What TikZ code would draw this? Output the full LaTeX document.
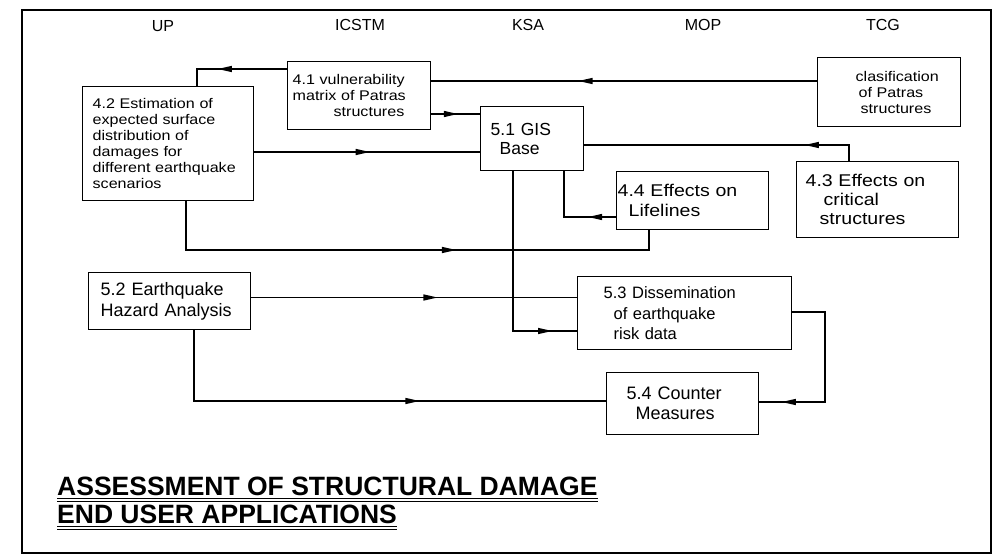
\documentclass[tikz,border=0pt]{standalone}
\usepackage{fontspec}
\setmainfont{Liberation Sans}
\newfontfamily\wfont{Liberation Sans}[FakeStretch=1.15]
\usetikzlibrary{calc}
\newcommand\ind[1]{\hspace*{#1pt}}
\tikzset{
  box/.style={draw, line width=1.3pt, rectangle, anchor=north west,
    inner xsep=0pt, inner ysep=0pt, align=left},
  conn/.style={line width=1.2pt},
  tipL/.pic={\fill (-7pt,0pt) -- (7pt,3.2pt) -- (7pt,-3.2pt) -- cycle;},
  tipR/.pic={\fill (7pt,0pt) -- (-7pt,3.2pt) -- (-7pt,-3.2pt) -- cycle;},
  hdr/.style={anchor=base, inner sep=0pt, font=\fontsize{16}{18}\selectfont},
  ttl/.style={anchor=base west, inner sep=0pt, font=\bfseries\fontsize{26.5}{30}\selectfont},
  small/.style={font=\wfont\fontsize{14}{16}\selectfont},
}
\begin{document}
\begin{tikzpicture}[x=1pt,y=-1pt]
\useasboundingbox (0,0) rectangle (995,556);
% frame
\draw[line width=1.3pt] (22,10) rectangle (991,553);
% headers
\node[hdr] (hUP) at (163,32) {UP};
\node[hdr] (hICSTM) at (360,31) {ICSTM};
\node[hdr] (hKSA) at (528,31) {KSA};
\node[hdr] (hMOP) at (703,31) {MOP};
\node[hdr] (hTCG) at (883,31) {TCG};
% boxes
\node[box, small, minimum width=171pt, minimum height=114pt, text width=171pt] (n42) at (82,86)
  {\ind{10}4.2 Estimation of\\ \ind{10}expected surface\\ \ind{10}distribution of\\ \ind{10}damages for\\ \ind{10}different earthquake\\ \ind{10}scenarios};
\node[box, small, minimum width=143pt, minimum height=68pt, text width=143pt] (n41) at (287,61)
  {\ind{5}4.1 vulnerability\\ \ind{5}matrix of Patras\\ \ind{46}structures};
\node[box, font=\fontsize{17.5}{19}\selectfont, minimum width=103pt, minimum height=64pt, text width=103pt] (n51) at (480,106)
  {\ind{10}5.1 GIS\\ \ind{19}Base};
\node[box, small, minimum width=143pt, minimum height=69pt, text width=143pt] (ncl) at (817,57)
  {\ind{38}clasification\\ \ind{41}of Patras\\ \ind{43}structures};
\node[box, font=\wfont\fontsize{17}{20}\selectfont, minimum width=152pt, minimum height=58pt, text width=152pt] (n44) at (616,171)
  {\ind{1}4.4 Effects on\\ \ind{12}Lifelines};
\node[box, font=\wfont\fontsize{17}{19}\selectfont, minimum width=162pt, minimum height=76pt, text width=162pt] (n43) at (796,161)
  {\ind{9}4.3 Effects on\\ \ind{27}critical\\ \ind{23}structures};
\node[box, font=\fontsize{18}{21}\selectfont, minimum width=162pt, minimum height=57pt, text width=162pt] (n52) at (88,272)
  {\ind{12}5.2 Earthquake\\ \ind{12}Hazard Analysis};
\node[box, font=\fontsize{16.5}{20.5}\selectfont, minimum width=214pt, minimum height=73pt, text width=214pt] (n53) at (577,276)
  {\ind{26}5.3 Dissemination\\ \ind{36}of earthquake\\ \ind{36}risk data};
\node[box, font=\fontsize{18}{20}\selectfont, minimum width=152pt, minimum height=62pt, text width=152pt] (n54) at (606,372)
  {\ind{20}5.4 Counter\\ \ind{29}Measures};
% helper coordinates
\coordinate (y2) at (0,81);
\coordinate (y3) at (0,114);
\coordinate (y4) at (0,152);
\coordinate (c1) at (197,69);
\coordinate (c5a) at (186,250);
\coordinate (c5b) at (649,250);
\coordinate (c6) at (564,217);
\coordinate (c7) at (849,145);
\coordinate (c8) at (513,331);
\coordinate (y9) at (0,297.5);
\coordinate (c10a) at (825,312);
\coordinate (c10b) at (825,402);
\coordinate (c11) at (194,401);
% connectors
\draw[conn] (n41.west |- c1) -- pic[pos=0.69]{tipL} (c1) -- (n42.north -| c1);
\draw[conn] (ncl.west |- y2) -- pic[pos=0.6]{tipL} (n41.east |- y2);
\draw[conn] (n41.east |- y3) -- pic[pos=0.4]{tipR} (n51.west |- y3);
\draw[conn] (n42.east |- y4) -- pic[pos=0.48]{tipR} (n51.west |- y4);
\draw[conn] (n42.south -| c5a) -- (c5a) -- pic[pos=0.568]{tipR} (c5b) -- (n44.south -| c5b);
\draw[conn] (n44.west |- c6) -- pic[pos=0.4]{tipL} (c6) -- (n51.south -| c6);
\draw[conn] (n43.north -| c7) -- (c7) -- pic[pos=0.14]{tipL} (n51.east |- c7);
\draw[conn] (n51.south -| c8) -- (c8) -- pic[pos=0.5]{tipR} (n53.west |- c8);
\draw[conn] (n52.east |- y9) -- pic[pos=0.55]{tipR} (n53.west |- y9);
\draw[conn] (n53.east |- c10a) -- (c10a) -- (c10b) -- pic[pos=0.55]{tipL} (n54.east |- c10b);
\draw[conn] (n52.south -| c11) -- (c11) -- pic[pos=0.53]{tipR} (n54.west |- c11);
% title
\node[ttl] (t1) at (57,495) {ASSESSMENT OF STRUCTURAL DAMAGE};
\node[ttl] (t2) at (57,523) {END USER APPLICATIONS};
\draw[line width=1.4pt] ([yshift=-3.5pt]t1.base west) -- ([yshift=-3.5pt]t1.base east);
\draw[line width=0.8pt] ([yshift=-6.5pt]t1.base west) -- ([yshift=-6.5pt]t1.base east);
\draw[line width=1.4pt] ([yshift=-3.5pt]t2.base west) -- ([yshift=-3.5pt]t2.base east);
\draw[line width=0.8pt] ([yshift=-6.5pt]t2.base west) -- ([yshift=-6.5pt]t2.base east);
\end{tikzpicture}
\end{document}
